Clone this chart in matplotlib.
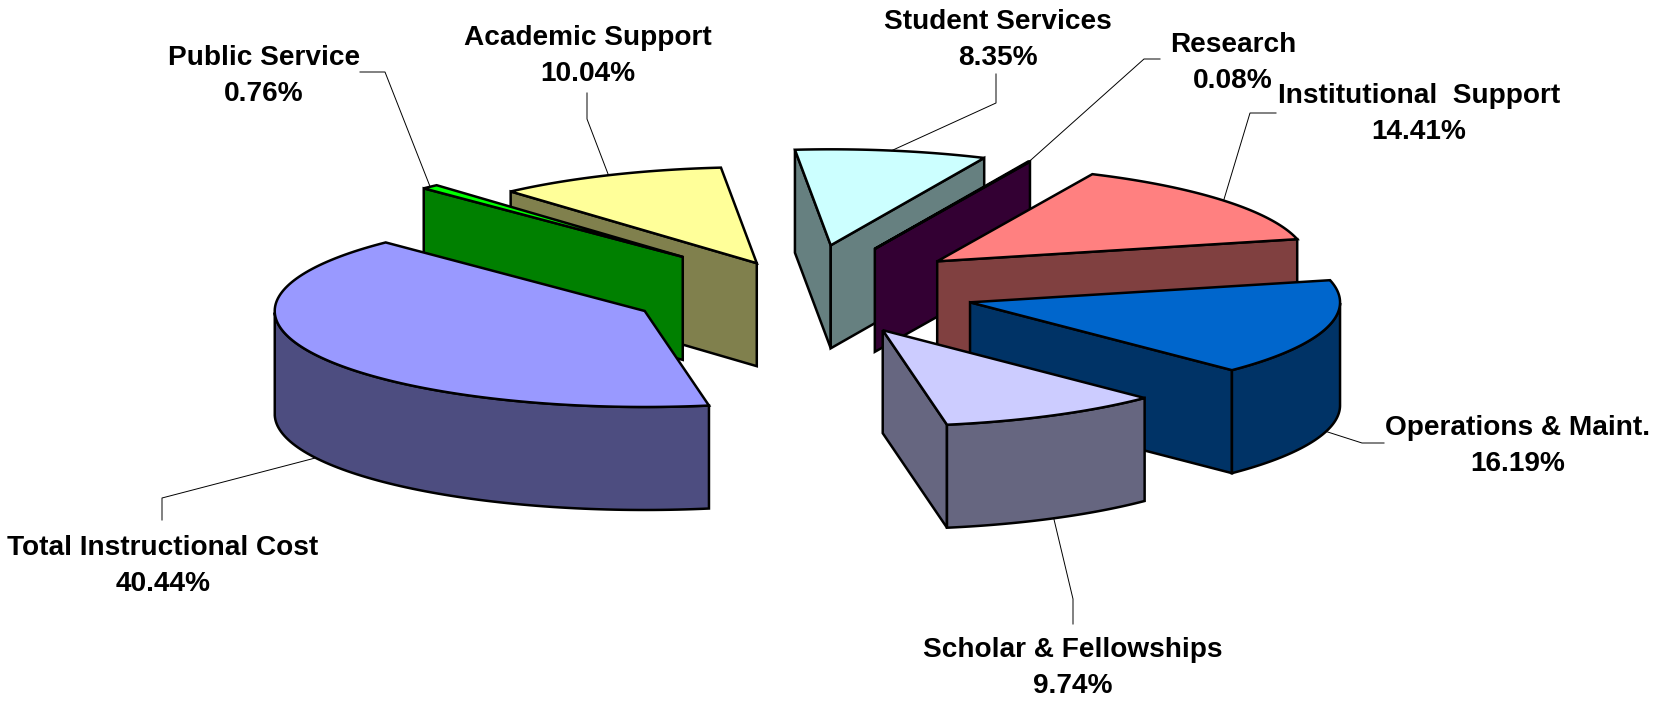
import numpy as np
import matplotlib
matplotlib.use('Agg')
import matplotlib.pyplot as plt
from matplotlib.patches import Polygon

labels = ['Total Instructional Cost', 'Public Service', 'Academic Support', 'Student Services',
          'Research', 'Institutional  Support', 'Operations & Maint.', 'Scholar & Fellowships']
values = [40.44, 0.76, 10.04, 8.35, 0.08, 14.41, 16.19, 9.74]
top_colors = ['#9999FF', '#00FF00', '#FFFF99', '#CCFFFF', '#660066', '#FF8080', '#0066CC', '#CCCCFF']
explode = [0.478, 0.472, 0.305, 0.472, 0.472, 0.472, 0.472, 0.472]
draw_order = [2, 1, 0, 3, 4, 5, 6, 7]

# label centres and leader elbows, in pixels of the picture
label_pos = [(163, 566), (264, 76), (588, 56), (998, 40), (1233, 63), (1419, 114), (1518, 446), (1073, 668)]
leader_pts = [[(162, 498), (162, 520)], [(385, 72), (360, 72)], [(587, 119), (587, 93)],
              [(996, 103), (996, 74)], [(1144, 59), (1160, 59)], [(1250, 113), (1276, 113)],
              [(1362, 443), (1384, 443)], [(1073, 599), (1073, 624)]]

center_x, center_y = 802, 290
rx, ry = 370, 96
depth = 103
start_angle = 280

fig = plt.figure(figsize=(16.53, 7.02), dpi=100)
ax = fig.add_axes([0, 0, 1, 1])
ax.set_xlim(0, 1653)
ax.set_ylim(702, 0)
ax.axis('off')

edge = dict(edgecolor='black', linewidth=1.8, joinstyle='miter')


def darker(color):
    rgb = np.array(matplotlib.colors.to_rgb(color))
    return tuple(rgb * 0.5)


def add_face(pts, color, z):
    pts = np.array(pts)
    low = pts[::-1] + [0, depth]
    ax.add_patch(Polygon(np.vstack([pts, low]), closed=True, facecolor=color, zorder=z, **edge))


fractions = np.array(values) / np.sum(values) * 360
ends = start_angle - np.cumsum(fractions)
starts = ends + fractions
mids = (starts + ends) / 2

for z, i in enumerate(draw_order):
    mid = np.radians(mids[i])
    ax_x = center_x + explode[i] * rx * np.cos(mid)
    ax_y = center_y - explode[i] * ry * np.sin(mid)
    apex = np.array([ax_x, ax_y])
    theta = np.radians(np.linspace(starts[i], ends[i], 120))
    arc = np.column_stack([ax_x + rx * np.cos(theta), ax_y - ry * np.sin(theta)])
    side = darker(top_colors[i])

    # radial cut faces, shown when they turn to the viewer
    for pt, sign in ((arc[0], -1), (arc[-1], 1)):
        d = pt - apex
        normal_y = sign * d[0]
        if normal_y > 0:
            add_face([apex, pt], side, z * 10 + 1)

    # outer wall, only the part on the near half
    front = np.sin(theta) < 0
    if front.any():
        add_face(arc[front], side, z * 10 + 2)

    ax.add_patch(Polygon(np.vstack([apex, arc]), closed=True, facecolor=top_colors[i],
                         zorder=z * 10 + 3, **edge))

    # leader line from the middle of the slice to its label
    anchor = np.array([ax_x + rx * np.cos(mid), ax_y - ry * np.sin(mid)])
    if np.sin(mid) < 0:
        anchor[1] += depth
    xs = [anchor[0]] + [p[0] for p in leader_pts[i]]
    ys = [anchor[1]] + [p[1] for p in leader_pts[i]]
    ax.plot(xs, ys, color='black', linewidth=0.7, zorder=200)
    ax.text(label_pos[i][0], label_pos[i][1], '%s\n%.2f%%' % (labels[i], values[i]),
            ha='center', va='center', fontsize=20.2, fontweight='bold',
            family='Liberation Sans', color='black', linespacing=1.5, zorder=300)

fig.savefig('out.png', dpi=100)
plt.close(fig)
